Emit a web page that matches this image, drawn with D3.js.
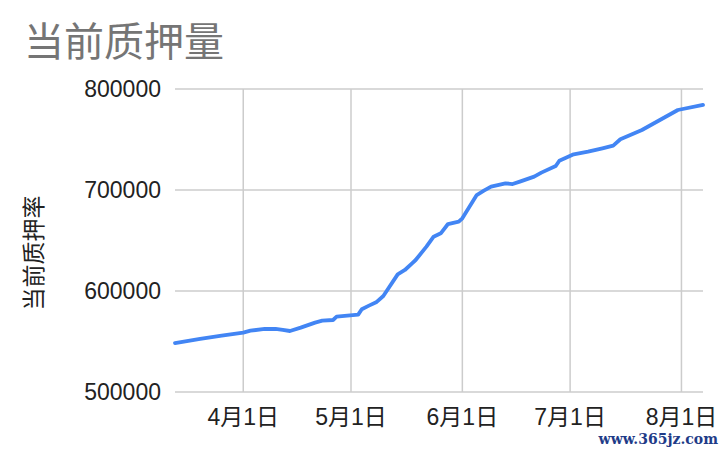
<!DOCTYPE html>
<html lang="zh">
<head>
<meta charset="utf-8">
<title>当前质押量</title>
<script src="https://cdn.jsdelivr.net/npm/d3@7"></script>
<style>
  body { margin: 0; background: #fff; }
</style>
</head>
<body>
<script>
// dates (year not shown)
var dates = ["2021-03-13","2021-03-20","2021-03-26","2021-04-01","2021-04-03","2021-04-07","2021-04-10","2021-04-12",
  "2021-04-14","2021-04-17","2021-04-21","2021-04-23","2021-04-26","2021-04-27","2021-05-03",
  "2021-05-04","2021-05-06","2021-05-08","2021-05-10","2021-05-14","2021-05-16","2021-05-18",
  "2021-05-19","2021-05-22","2021-05-24","2021-05-26","2021-05-28","2021-05-31","2021-06-01",
  "2021-06-05","2021-06-07","2021-06-09","2021-06-13","2021-06-15","2021-06-17","2021-06-21",
  "2021-06-23","2021-06-27","2021-06-28","2021-07-02","2021-07-06","2021-07-10","2021-07-13",
  "2021-07-15","2021-07-21","2021-07-26","2021-07-31","2021-08-07"];
var values = [548500,552500,555800,558800,560700,562400,562400,561400,
  560400,563700,568700,570600,571300,574600,576600,
  582000,585500,588800,595000,616500,620800,627400,
  630700,643900,653800,657100,666300,668600,672000,
  695000,699300,703300,706600,705900,708300,713200,
  717200,723800,729000,735300,737900,741300,744000,
  750200,759400,769300,779200,784200];
var yTicks = [500000, 600000, 700000, 800000];
var xTicks = ["2021-04-01","2021-05-01","2021-06-01","2021-07-01","2021-08-01"];
var title = "当前质押量";
var yTitle = "当前质押率";

var w = 725, h = 452;
var margin = {left: 175, right: 22, top: 89, bottom: 60};
var parse = d3.timeParse("%Y-%m-%d");
var sansFont = "Arial, 'Liberation Sans', 'Noto Sans CJK SC', sans-serif";

var data = dates.map(function(d, i) { return {date: parse(d), value: values[i]}; });

var svg = d3.select("body").append("svg")
  .attr("width", w)
  .attr("height", h);

var x = d3.scaleTime()
  .domain([parse("2021-03-13"), parse("2021-08-07")])
  .range([margin.left, w - margin.right]);
var y = d3.scaleLinear()
  .domain([500000, 800000])
  .range([h - margin.bottom, margin.top]);

// gridlines
svg.append("g").selectAll("line")
  .data(yTicks)
  .enter().append("line")
  .attr("x1", margin.left).attr("x2", w - margin.right)
  .attr("y1", function(d) { return y(d); })
  .attr("y2", function(d) { return y(d); })
  .attr("stroke", "#cccccc")
  .attr("stroke-width", 1.5);

svg.append("g").selectAll("line")
  .data(xTicks)
  .enter().append("line")
  .attr("x1", function(d) { return x(parse(d)); })
  .attr("x2", function(d) { return x(parse(d)); })
  .attr("y1", y(800000)).attr("y2", y(500000))
  .attr("stroke", "#cccccc")
  .attr("stroke-width", 1.5);

// y tick labels
svg.append("g").selectAll("text")
  .data(yTicks)
  .enter().append("text")
  .attr("x", 161)
  .attr("y", function(d) { return y(d); })
  .attr("dy", "0.35em")
  .attr("text-anchor", "end")
  .style("font-family", sansFont)
  .style("font-size", "23px")
  .attr("fill", "#222")
  .text(function(d) { return d; });

// x tick labels
var fmt = d3.timeFormat("%-m月%-d日");
svg.append("g").selectAll("text")
  .data(xTicks)
  .enter().append("text")
  .attr("x", function(d) { return x(parse(d)); })
  .attr("y", 425)
  .attr("text-anchor", "middle")
  .style("font-family", sansFont)
  .style("font-size", "23px")
  .attr("fill", "#222")
  .text(function(d) { return fmt(parse(d)); });

// line
var line = d3.line()
  .x(function(d) { return x(d.date); })
  .y(function(d) { return y(d.value); });

svg.append("path")
  .datum(data)
  .attr("d", line)
  .attr("fill", "none")
  .attr("stroke", "#4285f4")
  .attr("stroke-width", 3.8)
  .attr("stroke-linejoin", "round")
  .attr("stroke-linecap", "round");

// titles
svg.append("text")
  .attr("x", 24)
  .attr("y", 56)
  .style("font-size", "40px")
  .attr("fill", "#757575")
  .style("font-family", "'Noto Sans CJK SC', sans-serif")
  .text(title);

svg.append("text")
  .attr("transform", "translate(42,253) rotate(-90)")
  .attr("text-anchor", "middle")
  .style("font-size", "23px")
  .attr("fill", "#222")
  .style("font-family", "'Noto Sans CJK SC', sans-serif")
  .text(yTitle);

// watermark
svg.append("text")
  .attr("x", 718)
  .attr("y", 444)
  .attr("text-anchor", "end")
  .style("font-size", "14px")
  .style("font-weight", "bold")
  .attr("fill", "#1f3c88")
  .style("font-family", "'DejaVu Serif', 'Liberation Serif', serif")
  .text("www.365jz.com");
</script>
</body>
</html>
